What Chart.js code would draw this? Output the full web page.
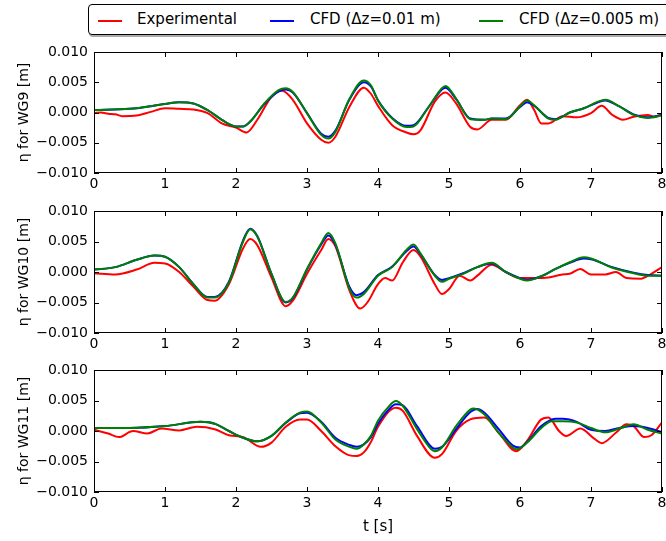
<!DOCTYPE html>
<html>
<head>
<meta charset="utf-8">
<script src="https://cdn.jsdelivr.net/npm/chart.js@4.4.1/dist/chart.umd.min.js"></script>
<style>
    body { margin: 0; background: #fff; width: 666px; height: 541px; overflow: hidden; position: relative; font-family: 'DejaVu Sans', sans-serif; }
    .panel { position: absolute; left: 0; }
    #leyenda { position: absolute; left: 88px; top: 4px; width: 640px; height: 29px; border: 1px solid #000; border-radius: 4px; background: #fff; box-shadow: 1px 2px 0 #aaa; }
    .linea { position: absolute; top: 15px; width: 24px; height: 2px; }
    .texto { position: absolute; top: 5px; font-size: 15px; line-height: 18px; color: #000; white-space: nowrap; }
</style>
</head>
<body>
<div id="leyenda">
    <span class="linea" style="left:9px;background:#ff0000"></span><span class="texto" style="left:48px">Experimental</span>
    <span class="linea" style="left:181px;background:#0000ff"></span><span class="texto" style="left:221px">CFD (Δz=0.01 m)</span>
    <span class="linea" style="left:390px;background:#008000"></span><span class="texto" style="left:430px">CFD (Δz=0.005 m)</span>
</div>
<div class="panel" style="top:40px"><canvas id="wg9" width="666" height="160"></canvas></div>
<div class="panel" style="top:199px"><canvas id="wg10" width="666" height="160"></canvas></div>
<div class="panel" style="top:358px"><canvas id="wg11" width="666" height="183"></canvas></div>
<script>
// ===== Datos: [t (s), eta (m)] =====
const xTicks = [0, 1, 2, 3, 4, 5, 6, 7, 8];
const yTicks = [-0.01, -0.005, 0, 0.005, 0.01];
const seriesLabels = ['Experimental', 'CFD (Δz=0.01 m)', 'CFD (Δz=0.005 m)'];

// WG9
const wg9Exp = [[0,-0.0001],[0.1,0.0000],[0.2,-0.0002],[0.3,-0.0003],[0.4,-0.0006],[0.6,-0.0005],[0.8,0.0001],[1.0,0.0007],
    [1.2,0.0006],[1.4,0.0005],[1.6,-0.0001],[1.8,-0.0018],[2.0,-0.0025],[2.15,-0.0033],[2.3,-0.0012],[2.5,0.0026],[2.65,0.0036],
    [2.8,0.0021],[3.0,-0.0018],[3.2,-0.0045],[3.3,-0.0050],[3.4,-0.0040],[3.6,0.0010],[3.8,0.0041],[3.9,0.0031],[4.0,0.0011],
    [4.2,-0.0021],[4.4,-0.0033],[4.5,-0.0036],[4.6,-0.0029],[4.8,0.0018],[4.95,0.0033],[5.1,0.0015],[5.3,-0.0024],[5.4,-0.0028],
    [5.6,-0.0012],[5.8,-0.0012],[6.0,0.0012],[6.1,0.0021],[6.2,0.0004],[6.3,-0.0018],[6.4,-0.0018],[6.6,-0.0006],[6.8,-0.0008],
    [7.0,-0.0001],[7.15,0.0011],[7.3,-0.0004],[7.45,-0.0012],[7.6,-0.0007],[7.8,-0.0004],[7.9,-0.0007],[8.0,-0.0002]];
const wg9Dz01 = [[0,0.0004],[0.5,0.0006],[1.0,0.0014],[1.2,0.0017],[1.4,0.0015],[1.6,0.0004],[1.8,-0.0012],[2.0,-0.0023],
    [2.1,-0.0023],[2.2,-0.0015],[2.4,0.0014],[2.6,0.0035],[2.7,0.0038],[2.8,0.0033],[3.0,-0.0001],[3.2,-0.0035],[3.3,-0.0040],
    [3.4,-0.0030],[3.6,0.0022],[3.8,0.0050],[3.9,0.0043],[4.0,0.0020],[4.2,-0.0009],[4.4,-0.0022],[4.5,-0.0021],[4.7,0.0007],
    [4.9,0.0038],[4.95,0.0041],[5.1,0.0022],[5.3,-0.0010],[5.5,-0.0012],[5.6,-0.0010],[5.8,-0.0010],[6.0,0.0009],[6.1,0.0017],
    [6.2,0.0011],[6.4,-0.0009],[6.5,-0.0011],[6.7,0.0000],[6.9,0.0007],[7.1,0.0017],[7.2,0.0020],[7.4,0.0010],[7.6,-0.0003],
    [7.8,-0.0008],[8.0,-0.0004]];
const wg9Dz005 = [[0,0.0004],[0.5,0.0006],[1.0,0.0014],[1.2,0.0017],[1.4,0.0015],[1.6,0.0004],[1.8,-0.0012],[2.0,-0.0023],
    [2.1,-0.0023],[2.2,-0.0015],[2.4,0.0015],[2.6,0.0037],[2.7,0.0040],[2.8,0.0034],[3.0,-0.0001],[3.2,-0.0037],[3.3,-0.0043],
    [3.4,-0.0032],[3.6,0.0023],[3.8,0.0053],[3.9,0.0045],[4.0,0.0020],[4.2,-0.0010],[4.4,-0.0024],[4.5,-0.0023],[4.7,0.0007],
    [4.9,0.0040],[4.95,0.0044],[5.1,0.0023],[5.3,-0.0011],[5.5,-0.0012],[5.6,-0.0010],[5.8,-0.0011],[6.0,0.0010],[6.1,0.0020],
    [6.2,0.0012],[6.4,-0.0010],[6.5,-0.0012],[6.7,0.0000],[6.9,0.0007],[7.1,0.0018],[7.2,0.0021],[7.4,0.0010],[7.6,-0.0004],
    [7.8,-0.0009],[8.0,-0.0005]];

// WG10
const wg10Exp = [[0,-0.0002],[0.3,-0.0004],[0.6,0.0004],[0.85,0.0015],[1.0,0.0014],[1.2,0.0000],[1.4,-0.0024],[1.6,-0.0046],
    [1.7,-0.0047],[1.9,-0.0020],[2.1,0.0039],[2.2,0.0054],[2.3,0.0044],[2.5,-0.0009],[2.7,-0.0056],[2.8,-0.0047],[3.0,-0.0003],
    [3.2,0.0036],[3.3,0.0054],[3.4,0.0042],[3.6,-0.0031],[3.75,-0.0060],[3.85,-0.0050],[4.0,-0.0020],[4.1,-0.0010],[4.2,-0.0014],
    [4.35,0.0016],[4.5,0.0036],[4.6,0.0025],[4.8,-0.0020],[4.9,-0.0036],[5.0,-0.0028],[5.15,-0.0006],[5.3,-0.0014],[5.4,-0.0006],
    [5.6,0.0012],[5.8,0.0000],[6.0,-0.0010],[6.2,-0.0010],[6.4,-0.0009],[6.6,-0.0004],[6.7,-0.0003],[6.85,0.0005],[7.0,-0.0004],
    [7.2,-0.0004],[7.35,0.0000],[7.5,-0.0010],[7.7,-0.0011],[7.85,-0.0003],[8.0,0.0008]];
const wg10Dz01 = [[0,0.0004],[0.3,0.0008],[0.6,0.0020],[0.85,0.0027],[1.0,0.0025],[1.2,0.0008],[1.4,-0.0020],[1.6,-0.0041],
    [1.7,-0.0041],[1.9,-0.0016],[2.1,0.0052],[2.2,0.0071],[2.3,0.0059],[2.5,-0.0003],[2.7,-0.0050],[2.8,-0.0043],[3.0,0.0004],
    [3.2,0.0045],[3.3,0.0060],[3.4,0.0045],[3.6,-0.0025],[3.7,-0.0038],[3.8,-0.0033],[4.0,-0.0005],[4.2,0.0009],[4.4,0.0034],
    [4.5,0.0042],[4.6,0.0029],[4.8,-0.0005],[4.9,-0.0013],[5.0,-0.0010],[5.2,-0.0002],[5.4,0.0008],[5.6,0.0014],[5.8,0.0000],
    [6.0,-0.0010],[6.1,-0.0013],[6.3,-0.0007],[6.5,0.0005],[6.7,0.0015],[6.9,0.0022],[7.0,0.0021],[7.3,0.0008],[7.6,-0.0001],
    [7.8,-0.0005],[8.0,-0.0006]];
const wg10Dz005 = [[0,0.0004],[0.3,0.0008],[0.6,0.0020],[0.85,0.0027],[1.0,0.0025],[1.2,0.0008],[1.4,-0.0020],[1.6,-0.0042],
    [1.7,-0.0042],[1.9,-0.0017],[2.1,0.0050],[2.2,0.0070],[2.3,0.0058],[2.5,-0.0003],[2.7,-0.0049],[2.8,-0.0042],[3.0,0.0005],
    [3.2,0.0047],[3.3,0.0064],[3.4,0.0047],[3.6,-0.0028],[3.7,-0.0042],[3.8,-0.0036],[4.0,-0.0006],[4.2,0.0008],[4.4,0.0036],
    [4.5,0.0045],[4.6,0.0030],[4.8,-0.0006],[4.9,-0.0016],[5.0,-0.0011],[5.2,-0.0003],[5.4,0.0008],[5.6,0.0015],[5.8,0.0000],
    [6.0,-0.0011],[6.1,-0.0014],[6.3,-0.0007],[6.5,0.0005],[6.7,0.0016],[6.9,0.0024],[7.0,0.0022],[7.3,0.0007],[7.6,-0.0002],
    [7.8,-0.0006],[8.0,-0.0006]];

// WG11
const wg11Exp = [[0,0.0002],[0.2,-0.0004],[0.35,-0.0010],[0.55,0.0000],[0.75,-0.0004],[0.95,0.0004],[1.2,0.0001],[1.45,0.0007],
    [1.7,0.0003],[1.9,-0.0007],[2.1,-0.0010],[2.35,-0.0026],[2.5,-0.0019],[2.7,0.0007],[2.9,0.0019],[3.0,0.0019],[3.2,0.0000],
    [3.4,-0.0025],[3.6,-0.0040],[3.7,-0.0041],[3.8,-0.0035],[3.9,-0.0018],[4.0,0.0007],[4.25,0.0038],[4.35,0.0033],[4.55,-0.0008],
    [4.8,-0.0044],[4.9,-0.0038],[5.1,0.0000],[5.3,0.0019],[5.5,0.0022],[5.7,-0.0003],[5.95,-0.0033],[6.1,-0.0016],[6.3,0.0019],
    [6.4,0.0022],[6.55,0.0000],[6.65,-0.0008],[6.85,0.0004],[7.05,-0.0013],[7.15,-0.0020],[7.35,-0.0003],[7.5,0.0011],[7.6,0.0008],
    [7.75,-0.0010],[7.85,-0.0007],[8.0,0.0014]];
const wg11Dz01 = [[0,0.0005],[0.5,0.0005],[1.0,0.0008],[1.5,0.0015],[1.7,0.0012],[1.9,0.0000],[2.1,-0.0011],[2.3,-0.0017],
    [2.5,-0.0008],[2.7,0.0013],[2.9,0.0029],[3.0,0.0030],[3.2,0.0015],[3.4,-0.0011],[3.6,-0.0023],[3.7,-0.0026],[3.8,-0.0022],
    [3.9,-0.0010],[4.0,0.0012],[4.15,0.0035],[4.25,0.0044],[4.35,0.0042],[4.55,0.0008],[4.8,-0.0029],[4.9,-0.0026],[5.1,0.0003],
    [5.3,0.0031],[5.4,0.0036],[5.5,0.0030],[5.7,0.0003],[5.9,-0.0024],[6.0,-0.0027],[6.1,-0.0018],[6.3,0.0008],[6.5,0.0020],
    [6.6,0.0020],[6.8,0.0015],[7.0,0.0002],[7.2,0.0000],[7.4,0.0005],[7.6,0.0008],[7.8,0.0005],[8.0,-0.0002]];
const wg11Dz005 = [[0,0.0005],[0.5,0.0005],[1.0,0.0008],[1.5,0.0015],[1.7,0.0012],[1.9,0.0000],[2.1,-0.0011],[2.3,-0.0017],
    [2.5,-0.0008],[2.7,0.0014],[2.9,0.0030],[3.0,0.0032],[3.2,0.0014],[3.4,-0.0014],[3.6,-0.0026],[3.7,-0.0029],[3.8,-0.0022],
    [3.9,-0.0008],[4.0,0.0017],[4.15,0.0040],[4.25,0.0049],[4.35,0.0041],[4.55,0.0003],[4.75,-0.0030],[4.8,-0.0033],[4.9,-0.0027],
    [5.1,0.0008],[5.3,0.0035],[5.35,0.0037],[5.5,0.0027],[5.7,-0.0003],[5.9,-0.0027],[5.95,-0.0030],[6.1,-0.0019],[6.3,0.0005],
    [6.45,0.0016],[6.6,0.0016],[6.8,0.0014],[7.0,0.0005],[7.2,-0.0002],[7.4,0.0004],[7.6,0.0011],[7.8,0.0002],[8.0,-0.0004]];

const colores = ['#ff0000', '#0000ff', '#008000'];

Chart.defaults.font.family = "'DejaVu Sans', sans-serif";
Chart.defaults.font.size = 14;
Chart.defaults.color = '#000';

// Marco y marcas hacia dentro (estilo clasico)
const marcoPlugin = {
    id: 'marco',
    afterDraw(chart) {
        const { ctx, chartArea: a, scales } = chart;
        ctx.save();
        ctx.strokeStyle = '#000';
        ctx.lineWidth = 1;
        ctx.beginPath();
        xTicks.forEach(function(t) {
            const px = Math.round(scales.x.getPixelForValue(t)) + 0.5;
            ctx.moveTo(px, a.bottom); ctx.lineTo(px, a.bottom - 5);
            ctx.moveTo(px, a.top); ctx.lineTo(px, a.top + 5);
        });
        yTicks.forEach(function(v) {
            const py = Math.round(scales.y.getPixelForValue(v)) + 0.5;
            ctx.moveTo(a.left, py); ctx.lineTo(a.left + 5, py);
            ctx.moveTo(a.right, py); ctx.lineTo(a.right - 5, py);
        });
        ctx.stroke();
        ctx.strokeRect(Math.round(a.left) + 0.5, Math.round(a.top) + 0.5,
            Math.round(a.right - a.left) - 1, Math.round(a.bottom - a.top) - 1);
        ctx.restore();
    }
};

function serie(i, puntos) {
    return {
        label: seriesLabels[i],
        data: puntos.map(function(p) { return { x: p[0], y: p[1] }; }),
        borderColor: colores[i],
        borderWidth: 2,
        pointRadius: 0,
        cubicInterpolationMode: 'monotone',
        fill: false,
        order: 3 - i
    };
}

function crearPanel(id, titulo, datos, altoEjeX, conTituloX) {
    new Chart(document.getElementById(id), {
        type: 'line',
        data: { datasets: datos.map(function(d, i) { return serie(i, d); }) },
        options: {
            responsive: false,
            animation: false,
            layout: { padding: { top: 12, right: 4, left: 0, bottom: 0 } },
            plugins: { legend: { display: false }, tooltip: { enabled: false } },
            scales: {
                x: {
                    type: 'linear', min: 0, max: 8,
                    afterBuildTicks: function(s) { s.ticks = xTicks.map(function(v) { return { value: v }; }); },
                    ticks: { padding: 3, maxRotation: 0, callback: function(v) { return String(v); } },
                    grid: { display: false, drawTicks: false },
                    border: { display: false },
                    title: { display: conTituloX, text: 't [s]', font: { size: 15 }, padding: { top: 0, bottom: 5 } },
                    afterFit: function(s) { s.height = altoEjeX; s.paddingLeft = 0; s.paddingRight = 0; }
                },
                y: {
                    min: -0.01, max: 0.01,
                    afterBuildTicks: function(s) { s.ticks = yTicks.map(function(v) { return { value: v }; }); },
                    ticks: {
                        padding: 6,
                        callback: function(v) {
                            if (Math.abs(v) < 1e-9) return '0.000';
                            return (v < 0 ? '\u2212' : '') + Math.abs(v).toFixed(3);
                        }
                    },
                    grid: { display: false, drawTicks: false },
                    border: { display: false },
                    title: { display: true, text: titulo, padding: { top: 16, bottom: 0 } },
                    afterFit: function(s) { s.width = 94; s.paddingTop = 0; s.paddingBottom = 0; }
                }
            }
        },
        plugins: [marcoPlugin]
    });
}

crearPanel('wg9', 'η for WG9 [m]', [wg9Exp, wg9Dz01, wg9Dz005], 27, false);
crearPanel('wg10', 'η for WG10 [m]', [wg10Exp, wg10Dz01, wg10Dz005], 26, false);
crearPanel('wg11', 'η for WG11 [m]', [wg11Exp, wg11Dz01, wg11Dz005], 49, true);
</script>
</body>
</html>
